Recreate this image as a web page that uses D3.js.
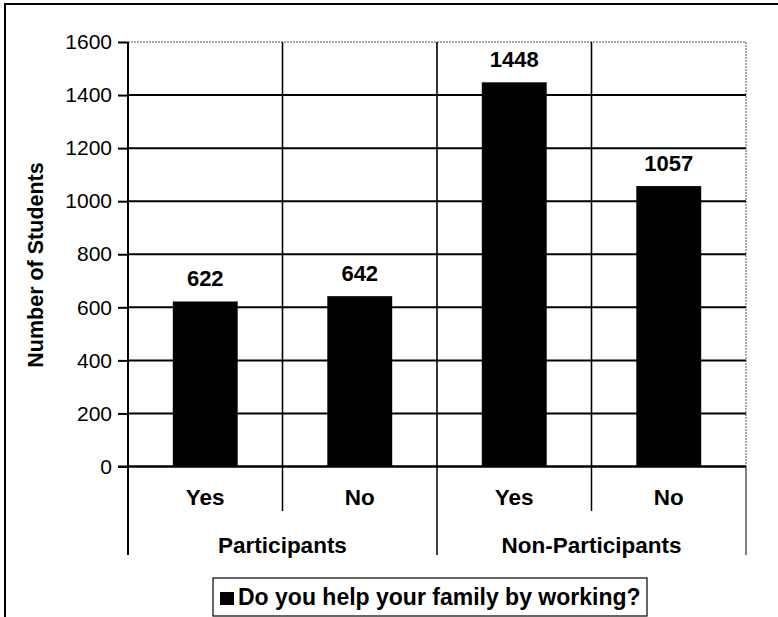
<!DOCTYPE html>
<html>
<head>
<meta charset="utf-8">
<script src="https://cdn.jsdelivr.net/npm/d3@7/dist/d3.min.js"></script>
<style>
  html, body { margin: 0; padding: 0; background: #fff; }
  svg { display: block; }
  text { font-family: Arial, "Liberation Sans", sans-serif; fill: #000; }
</style>
</head>
<body>
<svg id="chart" width="778" height="617"></svg>
<script>
// Survey answers grouped by programme participation
const groupLabels = ["Participants", "Non-Participants"];
const answerLabels = ["Yes", "No", "Yes", "No"];
const answerGroup = ["Participants", "Participants", "Non-Participants", "Non-Participants"];
const values = [622, 642, 1448, 1057];
const yTicks = [0, 200, 400, 600, 800, 1000, 1200, 1400, 1600];
const seriesName = "Do you help your family by working?";
const yTitle = "Number of Students";

(function () {
  const svg = d3.select("#chart");

  const plotLeft = 128, plotRight = 746, plotTop = 42, plotBottom = 466.5;
  const idx = d3.range(values.length);

  const x = d3.scaleBand().domain(idx).range([plotLeft, plotRight]).padding(0);
  const xGroup = d3.scaleBand().domain(groupLabels).range([plotLeft, plotRight]).padding(0);
  const y = d3.scaleLinear().domain([0, 1600]).range([plotBottom, plotTop]);

  // outer chart frame (runs past the right and bottom edges)
  svg.append("rect")
    .attr("x", 5).attr("y", 4)
    .attr("width", 800).attr("height", 640)
    .attr("fill", "none").attr("stroke", "#000").attr("stroke-width", 2);

  // plot area border (top and right), dotted
  svg.append("line")
    .attr("x1", plotLeft).attr("x2", plotRight).attr("y1", y(1600)).attr("y2", y(1600))
    .attr("stroke", "#555").attr("stroke-width", 1).attr("stroke-dasharray", "2,1");
  svg.append("line")
    .attr("x1", plotRight).attr("x2", plotRight).attr("y1", plotTop).attr("y2", plotBottom)
    .attr("stroke", "#555").attr("stroke-width", 1).attr("stroke-dasharray", "2,1");

  // horizontal gridlines
  svg.append("g").selectAll("line")
    .data(yTicks.filter(t => t < 1600))
    .join("line")
    .attr("x1", plotLeft).attr("x2", plotRight)
    .attr("y1", d => y(d)).attr("y2", d => y(d))
    .attr("stroke", "#000").attr("stroke-width", 2);

  // vertical gridlines between categories
  svg.append("g").selectAll("line")
    .data(idx.slice(1))
    .join("line")
    .attr("x1", d => x(d)).attr("x2", d => x(d))
    .attr("y1", plotTop).attr("y2", plotBottom)
    .attr("stroke", "#000").attr("stroke-width", 1.6);

  // bars
  const barW = x.bandwidth() * 0.42;
  svg.append("g").selectAll("rect")
    .data(idx)
    .join("rect")
    .attr("x", d => x(d) + (x.bandwidth() - barW) / 2)
    .attr("y", d => y(values[d]))
    .attr("width", barW)
    .attr("height", d => y(0) - y(values[d]))
    .attr("fill", "#000");

  // value labels
  svg.append("g").selectAll("text")
    .data(idx)
    .join("text")
    .attr("x", d => x(d) + x.bandwidth() / 2)
    .attr("y", d => y(values[d]) - 15)
    .attr("text-anchor", "middle")
    .attr("font-weight", "bold")
    .attr("font-size", 22)
    .text(d => values[d]);

  // y axis with tick labels
  const yAxis = d3.axisLeft(y).tickValues(yTicks).tickFormat(d3.format("d"))
    .tickSize(10).tickPadding(6);
  const gy = svg.append("g").attr("transform", `translate(${plotLeft},0)`).call(yAxis);
  gy.select(".domain").remove();
  gy.selectAll(".tick line").attr("stroke", "#000").attr("stroke-width", 2);
  gy.selectAll(".tick text")
    .attr("font-family", "Arial, 'Liberation Sans', sans-serif")
    .attr("font-size", 21)
    .attr("fill", "#000");

  // axis lines: 0-line and vertical axis running down through the category rows
  svg.append("line")
    .attr("x1", plotLeft - 10).attr("x2", plotRight).attr("y1", y(0)).attr("y2", y(0))
    .attr("stroke", "#000").attr("stroke-width", 2);
  svg.append("line")
    .attr("x1", plotLeft).attr("x2", plotLeft).attr("y1", plotTop).attr("y2", 555)
    .attr("stroke", "#000").attr("stroke-width", 2);

  // category separators below the axis
  svg.append("g").selectAll("line")
    .data(idx.slice(1).concat([values.length]))
    .join("line")
    .attr("x1", d => d < values.length ? x(d) : plotRight)
    .attr("x2", d => d < values.length ? x(d) : plotRight)
    .attr("y1", plotBottom)
    .attr("y2", d => (d === 2 || d === values.length) ? 555 : 511)
    .attr("stroke", "#000")
    .attr("stroke-width", d => d === values.length ? 1 : 1.5);

  // answer labels
  svg.append("g").selectAll("text")
    .data(idx)
    .join("text")
    .attr("x", d => x(d) + x.bandwidth() / 2)
    .attr("y", 505)
    .attr("text-anchor", "middle")
    .attr("font-weight", "bold")
    .attr("font-size", 22.5)
    .text(d => answerLabels[d]);

  // group labels
  svg.append("g").selectAll("text")
    .data(groupLabels)
    .join("text")
    .attr("x", d => xGroup(d) + xGroup.bandwidth() / 2)
    .attr("y", 553)
    .attr("text-anchor", "middle")
    .attr("font-weight", "bold")
    .attr("font-size", 22.5)
    .text(d => d);

  // y axis title
  svg.append("text")
    .attr("transform", "translate(43,265) rotate(-90)")
    .attr("text-anchor", "middle")
    .attr("font-weight", "bold")
    .attr("font-size", 21.5)
    .text(yTitle);

  // legend
  const lg = svg.append("g").attr("transform", "translate(213,578)");
  lg.append("rect")
    .attr("width", 434).attr("height", 38)
    .attr("fill", "#fff").attr("stroke", "#000").attr("stroke-width", 1.2);
  lg.append("rect")
    .attr("x", 7).attr("y", 14).attr("width", 14).attr("height", 13)
    .attr("fill", "#000");
  lg.append("text")
    .attr("x", 25).attr("y", 27)
    .attr("font-weight", "bold")
    .attr("font-size", 23)
    .text(seriesName);
})();
</script>
</body>
</html>
